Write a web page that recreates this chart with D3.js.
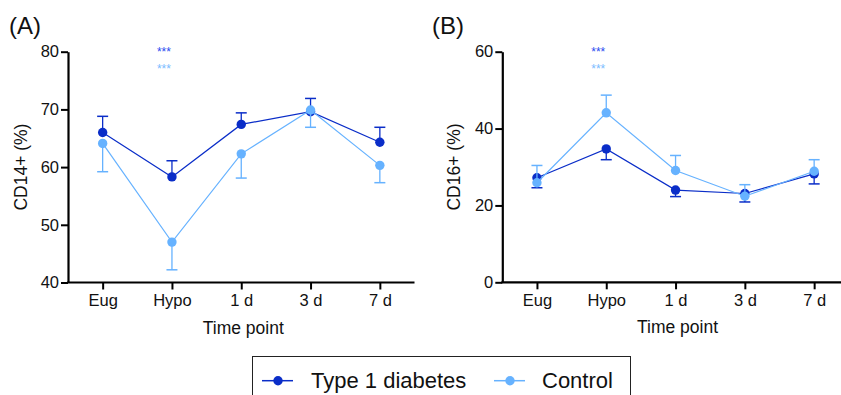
<!DOCTYPE html>
<html>
<head>
<meta charset="utf-8">
<script src="https://cdn.jsdelivr.net/npm/d3@7"></script>
<style>
  body { margin: 0; background: #fff; }
  svg { display: block; font-family: "Liberation Sans", Arial, sans-serif; }
</style>
</head>
<body>
<svg id="chart" width="841" height="395"></svg>
<script>
// time points on the x axis
var timePoints = ['Eug', 'Hypo', '1 d', '3 d', '7 d'];

// panel A: CD14+ (%) means and error bar ends
var cd14T1d = [66.0, 58.3, 67.4, 69.6, 64.3];
var cd14T1dErr = [68.8, 61.1, 69.4, 71.9, 66.9];
var cd14Ctrl = [64.1, 47.0, 62.3, 69.9, 60.3];
var cd14CtrlErr = [59.2, 42.2, 58.1, 66.9, 57.3];

// panel B: CD16+ (%) means and error bar ends
var cd16T1d = [27.2, 34.7, 24.0, 23.1, 28.2];
var cd16T1dErr = [24.6, 31.9, 22.3, 20.9, 25.6];
var cd16Ctrl = [25.9, 44.1, 29.1, 22.4, 28.9];
var cd16CtrlErr = [30.4, 48.7, 33.0, 25.4, 31.9];

var yTicksA = [40, 50, 60, 70, 80];
var yTicksB = [0, 20, 40, 60];

var darkBlue = '#0a2dc8';
var lightBlue = '#66b2ff';

var svg = d3.select('#chart');

function drawPanel(opt) {
  var x = d3.scalePoint()
    .domain(timePoints)
    .range([opt.left, opt.right])
    .padding(0.5);

  var y = d3.scaleLinear()
    .domain(opt.domain)
    .range([opt.bottom, opt.top]);

  var g = svg.append('g');

  // axes
  var yAxis = g.append('g')
    .attr('transform', 'translate(' + opt.left + ',0)')
    .call(d3.axisLeft(y).tickValues(opt.ticks).tickSize(7).tickPadding(2).tickSizeOuter(0));

  var xAxis = g.append('g')
    .attr('transform', 'translate(0,' + opt.bottom + ')')
    .call(d3.axisBottom(x).tickSize(7).tickPadding(5).tickSizeOuter(0));

  [xAxis, yAxis].forEach(function(a) {
    a.select('.domain').attr('stroke', '#000').attr('stroke-width', 2.2);
    a.selectAll('.tick line').attr('stroke', '#000').attr('stroke-width', 2);
    a.selectAll('.tick text')
      .attr('fill', '#111')
      .style('font-size', '16.5px')
      .style('font-family', '"Liberation Sans", Arial, sans-serif');
  });
  // extend x domain line to the y axis
  xAxis.select('.domain').attr('d', 'M' + (opt.left - 1) + ',0H' + opt.right);

  // titles
  g.append('text')
    .attr('x', (opt.left + opt.right) / 2 + 2)
    .attr('y', opt.bottom + 51)
    .attr('text-anchor', 'middle')
    .style('font-size', '17.5px')
    .attr('fill', '#111')
    .text('Time point');

  g.append('text')
    .attr('transform', 'translate(' + opt.titleX + ',' + ((opt.top + opt.bottom) / 2) + ') rotate(-90)')
    .attr('text-anchor', 'middle')
    .style('font-size', '17.5px')
    .attr('fill', '#111')
    .text(opt.yTitle);

  g.append('text')
    .attr('x', opt.labelX)
    .attr('y', 34)
    .style('font-size', '24px')
    .attr('fill', '#111')
    .text(opt.label);

  // series
  opt.series.forEach(function(s) {
    var sg = g.append('g');

    sg.selectAll('line.err')
      .data(s.values)
      .enter().append('line')
      .attr('class', 'err')
      .attr('x1', function(d, i) { return x(timePoints[i]); })
      .attr('x2', function(d, i) { return x(timePoints[i]); })
      .attr('y1', function(d) { return y(d); })
      .attr('y2', function(d, i) { return y(s.err[i]); })
      .attr('stroke', s.color)
      .attr('stroke-width', 1.3);

    sg.selectAll('line.cap')
      .data(s.err)
      .enter().append('line')
      .attr('class', 'cap')
      .attr('x1', function(d, i) { return x(timePoints[i]) - 5.5; })
      .attr('x2', function(d, i) { return x(timePoints[i]) + 5.5; })
      .attr('y1', function(d) { return y(d); })
      .attr('y2', function(d) { return y(d); })
      .attr('stroke', s.color)
      .attr('stroke-width', 1.5);

    sg.append('path')
      .datum(s.values)
      .attr('fill', 'none')
      .attr('stroke', s.color)
      .attr('stroke-width', 1.2)
      .attr('d', d3.line()
        .x(function(d, i) { return x(timePoints[i]); })
        .y(function(d) { return y(d); }));

    sg.selectAll('circle')
      .data(s.values)
      .enter().append('circle')
      .attr('cx', function(d, i) { return x(timePoints[i]); })
      .attr('cy', function(d) { return y(d); })
      .attr('r', 4.7)
      .attr('fill', s.color);
  });

  // significance stars above Hypo
  var sx = x('Hypo') - 8;
  g.append('text').attr('x', sx).attr('y', 56).attr('text-anchor', 'middle')
    .style('font-size', '12px').attr('fill', '#2a4cf0').text('***');
  g.append('text').attr('x', sx).attr('y', 72.5).attr('text-anchor', 'middle')
    .style('font-size', '12px').attr('fill', '#7bbcff').text('***');
}

drawPanel({
  left: 68, right: 414.5, top: 51.7, bottom: 282.5,
  domain: [40, 80], ticks: yTicksA,
  yTitle: 'CD14+ (%)', titleX: 27, label: '(A)', labelX: 9,
  series: [
    { values: cd14T1d, err: cd14T1dErr, color: darkBlue },
    { values: cd14Ctrl, err: cd14CtrlErr, color: lightBlue }
  ]
});

drawPanel({
  left: 502.3, right: 848.8, top: 51.7, bottom: 282.3,
  domain: [0, 60], ticks: yTicksB,
  yTitle: 'CD16+ (%)', titleX: 460, label: '(B)', labelX: 432,
  series: [
    { values: cd16T1d, err: cd16T1dErr, color: darkBlue },
    { values: cd16Ctrl, err: cd16CtrlErr, color: lightBlue }
  ]
});

// legend
var legendItems = [
  { name: 'Type 1 diabetes', color: darkBlue, x: 262 },
  { name: 'Control', color: lightBlue, x: 494 }
];

var legend = svg.append('g');
legend.append('rect')
  .attr('x', 252.5).attr('y', 356.5)
  .attr('width', 378).attr('height', 50)
  .attr('fill', 'none')
  .attr('stroke', '#222')
  .attr('stroke-width', 1);

var li = legend.selectAll('g.item')
  .data(legendItems)
  .enter().append('g')
  .attr('class', 'item')
  .attr('transform', function(d) { return 'translate(' + d.x + ',380.7)'; });

li.append('line')
  .attr('x1', 0).attr('x2', 31)
  .attr('stroke', function(d) { return d.color; })
  .attr('stroke-width', 1.5);
li.append('circle')
  .attr('cx', 16).attr('r', 4.7)
  .attr('fill', function(d) { return d.color; });
li.append('text')
  .attr('x', function(d, i) { return i === 0 ? 49 : 48; })
  .attr('y', 7.5)
  .style('font-size', '22px')
  .attr('fill', '#111')
  .text(function(d) { return d.name; });
</script>
</body>
</html>
